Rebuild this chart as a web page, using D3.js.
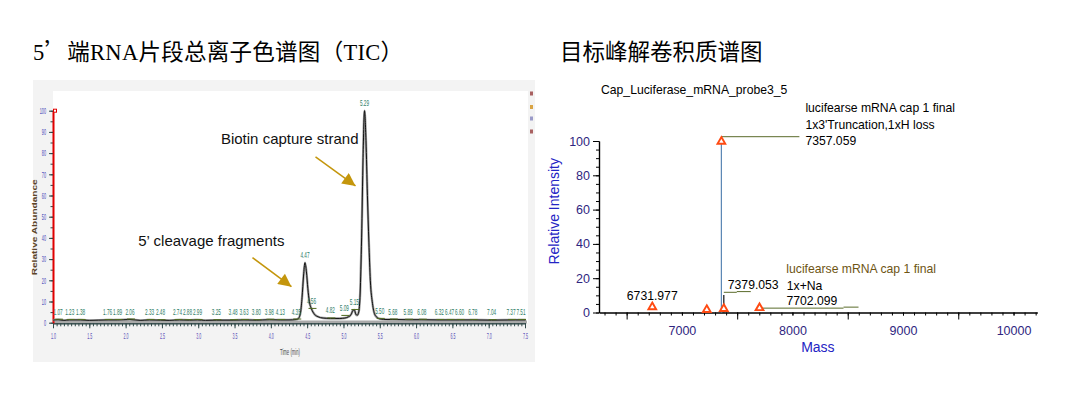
<!DOCTYPE html>
<html>
<head>
<meta charset="utf-8">
<script src="https://cdn.jsdelivr.net/npm/d3@7"></script>
<style>
    body {margin: 0; background: #fff;}
    svg {display: block; font-family: "Liberation Sans", Arial, sans-serif;}
    .title {font-family: "Liberation Serif", "Noto Sans CJK SC", serif; font-size: 22.5px;}
    .cjk {font-family: "Noto Sans CJK SC", sans-serif;}
    .tiny {font-family: "Liberation Sans Narrow", "Liberation Sans", sans-serif;}
</style>
</head>
<body>
<svg id="chart" width="1078" height="398"></svg>
<script>
// TIC trace: time (min) and relative abundance (%)
const ticTime = [1.00, 1.07, 1.15, 1.23, 1.38, 1.50, 1.76, 1.89, 2.06, 2.20, 2.33, 2.48, 2.60, 2.74, 2.88,
    2.99, 3.10, 3.25, 3.48, 3.63, 3.80, 3.98, 4.13, 4.25, 4.35, 4.38, 4.41, 4.43, 4.45, 4.47, 4.49, 4.51,
    4.53, 4.56, 4.60, 4.65, 4.72, 4.82, 4.95, 5.02, 5.07, 5.09, 5.11, 5.13, 5.15, 5.17, 5.19, 5.21, 5.23,
    5.25, 5.27, 5.29, 5.31, 5.33, 5.35, 5.37, 5.40, 5.43, 5.47, 5.50, 5.60, 5.68, 5.89, 6.08, 6.32, 6.47,
    6.60, 6.78, 7.04, 7.37, 7.51];
const ticValue = [1.2, 1.4, 1.1, 1.3, 1.3, 1.1, 1.3, 1.3, 1.5, 1.1, 1.3, 1.2, 1.1, 1.3, 1.2,
    1.3, 1.1, 1.2, 1.2, 1.3, 1.2, 1.4, 1.3, 1.3, 1.5, 2.0, 5.0, 12, 22, 28.3, 24, 16,
    10, 6.5, 4.0, 2.8, 2.2, 2.0, 2.0, 2.2, 2.8, 3.2, 4.2, 5.8, 6.0, 4.0, 3.5, 5.0, 14,
    40, 78, 100, 86, 60, 38, 20, 9, 4, 2.3, 1.8, 1.5, 1.5, 1.4, 1.4, 1.3, 1.3,
    1.3, 1.3, 1.2, 1.3, 1.3];
const peakTimes = [1.07, 1.23, 1.38, 1.76, 1.89, 2.06, 2.33, 2.48, 2.74, 2.88, 2.99, 3.25, 3.48, 3.63,
    3.80, 3.98, 4.13, 4.35, 4.47, 4.56, 4.82, 5.09, 5.15, 5.29, 5.50, 5.68, 5.89, 6.08, 6.32, 6.47,
    6.60, 6.78, 7.04, 7.37, 7.51];
const peakHeights = [1.4, 1.3, 1.3, 1.3, 1.3, 1.5, 1.3, 1.2, 1.3, 1.2, 1.3, 1.2, 1.2, 1.3,
    1.2, 1.4, 1.3, 1.5, 28.3, 6.5, 2.0, 3.2, 6.0, 100, 1.8, 1.5, 1.4, 1.4, 1.3, 1.3,
    1.3, 1.3, 1.2, 1.3, 1.3];
const abundanceTicks = [0, 10, 20, 30, 40, 50, 60, 70, 80, 90, 100];
const timeTicks = [1.0, 1.5, 2.0, 2.5, 3.0, 3.5, 4.0, 4.5, 5.0, 5.5, 6.0, 6.5, 7.0, 7.5];

// deconvoluted spectrum
const stickMass = [7357.059, 7379.053];
const stickIntensity = [100, 10.2];
const markerMass = [6731.977, 7225, 7357.059, 7379.053, 7702.099];
const markerLevel = [2, 0.4, 98.5, 1, 1.5];
const massTicks = [7000, 8000, 9000, 10000];
const intensityTicks = [0, 20, 40, 60, 80, 100];

const svg = d3.select("#chart");

const t1 = svg.append("text").attr("class", "title").attr("x", 33).attr("y", 60)
    .attr("textLength", 370).attr("lengthAdjust", "spacing");
t1.append("tspan").text("5");
t1.append("tspan").attr("class", "cjk").text("’");
t1.append("tspan").text("端RNA片段总离子色谱图（TIC）");
svg.append("text").attr("class", "title").attr("x", 560).attr("y", 60)
    .text("目标峰解卷积质谱图");

// ---------- left: TIC ----------
const xL = d3.scaleLinear().domain([1.0, 7.5]).range([53, 525]);
const yL = d3.scaleLinear().domain([0, 100]).range([322.7, 110.7]);

const left = svg.append("g");
left.append("rect").attr("x", 33).attr("y", 80).attr("width", 502).attr("height", 282).attr("fill", "#f3f3f3");
left.append("rect").attr("x", 53).attr("y", 91).attr("width", 475).attr("height", 232).attr("fill", "#fff");

// little legend squares at right edge
[["#a86060", 91.5], ["#d9a445", 105], ["#9a9ac8", 116.5], ["#a86060", 129.5]].forEach(s => {
    left.append("rect").attr("x", 530).attr("y", s[1]).attr("width", 3).attr("height", 4).attr("fill", s[0]);
});

// baseline band
left.append("rect").attr("x", 53).attr("y", 320.5).attr("width", 474).attr("height", 3).attr("fill", "#a9a9a9");

// x axis
const xMinor = left.append("g").attr("transform", "translate(0,323.3)")
    .call(d3.axisBottom(xL).tickValues(d3.range(1.0, 7.501, 0.05)).tickSize(3).tickFormat("").tickSizeOuter(0));
const xMajor = left.append("g").attr("transform", "translate(0,323.3)")
    .call(d3.axisBottom(xL).tickValues(timeTicks).tickSize(5).tickFormat(d3.format(".1f")).tickSizeOuter(0));
[xMinor, xMajor].forEach(g => {
    g.select(".domain").attr("stroke", "#304848");
    g.selectAll(".tick line").attr("stroke", "#304848");
});
xMajor.selectAll("text").attr("class", "tiny").attr("font-size", 8.5).attr("fill", "#5a50b8")
    .attr("y", 10).attr("textLength", 5).attr("lengthAdjust", "spacingAndGlyphs");

left.append("text").attr("class", "tiny").attr("x", 290).attr("y", 355)
    .attr("text-anchor", "middle").attr("font-size", 8.5).attr("fill", "#4a4a4a")
    .attr("textLength", 20).attr("lengthAdjust", "spacingAndGlyphs").text("Time (min)");

// y axis
const yMinor = left.append("g").attr("transform", "translate(53,0)")
    .call(d3.axisLeft(yL).tickValues(d3.range(0, 101, 5)).tickSize(2.5).tickFormat("").tickSizeOuter(0));
const yMajor = left.append("g").attr("transform", "translate(53,0)")
    .call(d3.axisLeft(yL).tickValues(abundanceTicks).tickSize(4).tickPadding(3).tickSizeOuter(0));
[yMinor, yMajor].forEach(g => {
    g.selectAll(".tick line").attr("stroke", "#304848");
    g.select(".domain").attr("stroke", "#e00000").attr("stroke-width", 1.6);
});
yMajor.selectAll("text").attr("class", "tiny").attr("font-size", 8.5).attr("fill", "#4848b8")
    .attr("textLength", d => String(d).length * 2.1).attr("lengthAdjust", "spacingAndGlyphs");
left.append("rect").attr("x", 53.5).attr("y", yL(100) - 1.5).attr("width", 3).attr("height", 3)
    .attr("fill", "#fff").attr("stroke", "#e00000").attr("stroke-width", 1);

left.append("text").attr("class", "tiny")
    .attr("transform", "translate(37," + yL(45) + ") rotate(-90)")
    .attr("text-anchor", "middle").attr("font-size", 8).attr("font-weight", "bold").attr("fill", "#5c4528")
    .attr("textLength", 96).attr("lengthAdjust", "spacingAndGlyphs").text("Relative Abundance");

// trace
const tic = ticTime.map((t, i) => [t, ticValue[i]]);
const line = d3.line().curve(d3.curveMonotoneX).x(d => xL(d[0])).y(d => yL(d[1]));
left.append("path").datum(tic).attr("d", line).attr("fill", "none")
    .attr("stroke", "#a0a0a0").attr("stroke-width", 2.4);
left.append("path").datum(tic).attr("d", line).attr("fill", "none")
    .attr("stroke", "#111").attr("stroke-width", 1);

// peak labels, pushed apart where they would collide
const peaks = peakTimes.map((t, i) => ({t: t, h: peakHeights[i], lx: Math.min(xL(t), 521)}));
for (let i = peaks.length - 2; i >= 0; i--) {
    const a = peaks[i], b = peaks[i + 1];
    if (Math.abs(yL(a.h) - yL(b.h)) < 10 && b.lx - a.lx < 10) a.lx = b.lx - 10;
}
left.selectAll(".pmark").data(peaks.filter(p => p.h < 10)).enter().append("line")
    .attr("x1", p => p.lx - 3).attr("x2", p => p.lx + 5)
    .attr("y1", p => yL(p.h) - 0.5).attr("y2", p => yL(p.h) - 0.5)
    .attr("stroke", "#4f6a1f").attr("stroke-width", 1);
// narrow labels: squeezed horizontally
left.selectAll(".plabel").data(peaks).enter().append("text")
    .attr("class", "tiny").attr("font-size", 8.5).attr("fill", "#2e7d66")
    .attr("text-anchor", "middle")
    .attr("transform", p => "translate(" + p.lx + "," + (yL(p.h) - 5) + ") scale(0.55,1)")
    .text(p => d3.format(".2f")(p.t));

// annotations with arrows
const defs = svg.append("defs");
defs.append("marker").attr("id", "head").attr("viewBox", "0 0 10 10")
    .attr("refX", 10).attr("refY", 5).attr("markerWidth", 15).attr("markerHeight", 13)
    .attr("markerUnits", "userSpaceOnUse").attr("orient", "auto")
    .append("path").attr("d", "M0,0L10,5L0,10Z").attr("fill", "#c4960c");

function arrow(tipX, tipY, dx, dy, label, textDx, textDy) {
    left.append("line").attr("x1", tipX + dx).attr("y1", tipY + dy).attr("x2", tipX).attr("y2", tipY)
        .attr("stroke", "#c4960c").attr("stroke-width", 1.5).attr("marker-end", "url(#head)");
    left.append("text").attr("x", tipX + dx + textDx).attr("y", tipY + dy + textDy)
        .attr("text-anchor", "end").attr("font-size", 15).attr("fill", "#111").text(label);
}
arrow(xL(5.29) - 9, yL(64.5), -40, -29, "Biotin capture strand", 43, -13);
arrow(xL(4.47) - 13.5, yL(17), -39, -29, "5’ cleavage fragments", 32, -12);

// ---------- right: deconvoluted mass spectrum ----------
const xR = d3.scaleLinear().domain([6250, 10215]).range([599, 1037.3]);
const yR = d3.scaleLinear().domain([0, 100]).range([312.5, 141]);
const right = svg.append("g").attr("font-size", 12.2);

right.append("text").attr("x", 601).attr("y", 93.5).text("Cap_Luciferase_mRNA_probe3_5");

const yRMinor = right.append("g").attr("transform", "translate(599,0)")
    .call(d3.axisLeft(yR).tickValues(d3.range(0, 101, 5)).tickSize(3).tickFormat("").tickSizeOuter(0));
const yRMajor = right.append("g").attr("transform", "translate(599,0)")
    .call(d3.axisLeft(yR).tickValues(intensityTicks).tickSize(6).tickPadding(3).tickSizeOuter(0));
yRMajor.selectAll("text").attr("font-size", 12.5).attr("fill", "#2f2680");

const xRMinor = right.append("g").attr("transform", "translate(0,312.5)")
    .call(d3.axisBottom(xR).tickValues(d3.range(6300, 10201, 100)).tickSize(3).tickFormat("").tickSizeOuter(0));
right.append("g").attr("transform", "translate(0,312.5)")
    .call(d3.axisBottom(xR).tickValues([6500, 7500, 8500, 9500]).tickSize(7).tickFormat("").tickSizeOuter(0))
    .select(".domain").remove();
const xRMajor = right.append("g").attr("transform", "translate(0,312.5)")
    .call(d3.axisBottom(xR).tickValues(massTicks).tickSize(3).tickFormat(d3.format("d")).tickSizeOuter(0));
xRMajor.selectAll("text").attr("font-size", 12.5).attr("fill", "#2f2680").attr("y", 22).attr("dy", null);
[yRMinor, yRMajor, xRMinor, xRMajor].forEach(g => g.select(".domain").attr("stroke", "#000").attr("stroke-width", 1.2));

right.append("text").attr("transform", "translate(559," + yR(59) + ") rotate(-90)")
    .attr("text-anchor", "middle").attr("font-size", 14).attr("fill", "#2424c4").text("Relative Intensity");
right.append("text").attr("x", xR(8230)).attr("y", 352).attr("text-anchor", "middle")
    .attr("font-size", 14).attr("fill", "#2424c4").text("Mass");

// sticks
right.selectAll(".stick").data(stickMass).enter().append("line")
    .attr("x1", d => xR(d)).attr("x2", d => xR(d))
    .attr("y1", yR(0)).attr("y2", (d, i) => yR(stickIntensity[i]))
    .attr("stroke", (d, i) => i === 0 ? "#5a86b4" : "#111").attr("stroke-width", 1.2);

// leader lines
const olive = "#5a6b2a";
const topX = xR(stickMass[0]), topY = yR(stickIntensity[0]) - 4.3;
right.append("line").attr("x1", topX).attr("x2", topX + 78).attr("y1", topY).attr("y2", topY).attr("stroke", olive);
const naX = xR(stickMass[1]), naY = yR(stickIntensity[1]) - 2.7;
right.append("line").attr("x1", naX).attr("x2", naX + 13).attr("y1", naY).attr("y2", naY).attr("stroke", olive);
right.append("line").attr("x1", naX + 13).attr("x2", naX + 27).attr("y1", naY - 0.7).attr("y2", naY - 0.7).attr("stroke", olive);
const lossX = xR(markerMass[4]), lossY = yR(markerLevel[4]) - 1.8;
right.append("line").attr("x1", lossX).attr("x2", lossX + 84).attr("y1", lossY).attr("y2", lossY).attr("stroke", olive);
right.append("line").attr("x1", lossX + 84).attr("x2", lossX + 99).attr("y1", lossY - 1).attr("y2", lossY - 1).attr("stroke", olive);

// markers
right.selectAll(".mk").data(markerMass).enter().append("path")
    .attr("transform", (d, i) => "translate(" + xR(d) + "," + (yR(markerLevel[i]) - 2) + ")")
    .attr("d", d3.symbol(d3.symbolTriangle, 26))
    .attr("fill", "#fff").attr("stroke", "#ff4a12").attr("stroke-width", 1.9);

// labels
right.append("text").attr("x", topX + 84).attr("y", topY - 25).text("lucifearse mRNA cap 1 final");
right.append("text").attr("x", topX + 84).attr("y", topY - 8).text("1x3'Truncation,1xH loss");
right.append("text").attr("x", topX + 84).attr("y", topY + 8).text("7357.059");

right.append("text").attr("x", naX + 4).attr("y", naY - 3.5).text("7379.053");
right.append("text").attr("x", naX + 63).attr("y", naY - 2.8).text("1x+Na");
right.append("text").attr("x", naX + 62.5).attr("y", naY - 19.5).attr("fill", "#6e5514")
    .text("lucifearse mRNA cap 1 final");
right.append("text").attr("x", lossX + 27).attr("y", lossY - 3).text("7702.099");
right.append("text").attr("x", xR(markerMass[0])).attr("y", yR(markerLevel[0]) - 9)
    .attr("text-anchor", "middle").text("6731.977");
</script>
</body>
</html>
